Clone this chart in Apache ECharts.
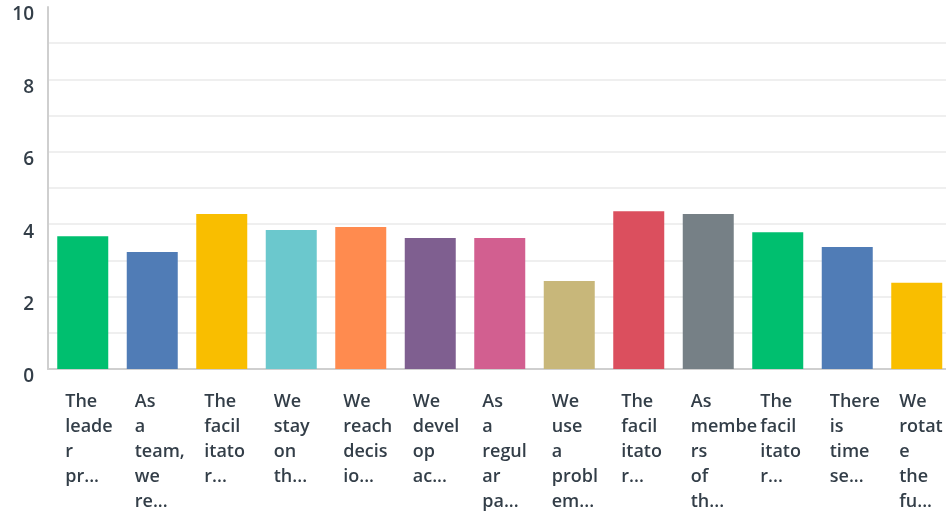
<!DOCTYPE html>
<html>
<head>
<meta charset="utf-8">
<script src="https://cdn.jsdelivr.net/npm/echarts@6/dist/echarts.min.js"></script>
<style>
  html, body { margin: 0; padding: 0; background: #fff; }
  #chart { width: 946px; height: 515px; }
</style>
</head>
<body>
<div id="chart"></div>
<script>
// Question labels as shown under each bar (pre-wrapped and shortened)
const categories = [
  "The\nleade\nr\npr...",
  "As\na\nteam,\nwe\nre...",
  "The\nfacil\nitato\nr...",
  "We\nstay\non\nth...",
  "We\nreach\ndecis\nio...",
  "We\ndevel\nop\nac...",
  "As\na\nregul\nar\npa...",
  "We\nuse\na\nprobl\nem...",
  "The\nfacil\nitato\nr...",
  "As\nmembe\nrs\nof\nth...",
  "The\nfacil\nitato\nr...",
  "There\nis\ntime\nse...",
  "We\nrotat\ne\nthe\nfu..."
];

// Average score for each question
const values = [3.67, 3.23, 4.28, 3.84, 3.92, 3.62, 3.62, 2.43, 4.36, 4.28, 3.78, 3.37, 2.38];

const barColors = [
  "#00BF6F", "#507CB6", "#F9BE00", "#6BC8CD", "#FF8B4F", "#7F5F90",
  "#D25F90", "#C8B77A", "#DB4F5E", "#768086", "#00BF6F", "#507CB6", "#F9BE00"
];

const yTicks = [0, 2, 4, 6, 8, 10];

const textColor = "#333E48";
const chart = echarts.init(document.getElementById("chart"), null, { renderer: "canvas" });

chart.setOption({
  animation: false,
  grid: { left: 48, width: 903.5, top: 7, bottom: 146, containLabel: false, outerBoundsMode: "none" },
  xAxis: {
    type: "category",
    data: categories,
    boundaryGap: true,
    axisLine: { show: true, lineStyle: { color: "#CFCFCF", width: 2 } },
    axisTick: { show: false },
    axisLabel: {
      interval: 0,
      margin: 20,
      verticalAlign: "top",
      formatter: function (v) {
        return v.split("\n").map(function (s) { return "{a|" + s + "}"; }).join("\n");
      },
      rich: {
        a: {
          width: 35,
          align: "left",
          lineHeight: 25,
          fontSize: 18,
          fontWeight: 600,
          fontFamily: "Open Sans",
          color: textColor
        }
      }
    },
    splitLine: { show: false }
  },
  yAxis: {
    type: "value",
    min: yTicks[0],
    max: yTicks[yTicks.length - 1],
    interval: yTicks[1] - yTicks[0],
    axisLine: { show: true, lineStyle: { color: "#CFCFCF", width: 2 } },
    axisTick: { show: false },
    minorTick: { show: false, splitNumber: 2 },
    axisLabel: {
      margin: 14,
      verticalAlign: "top",
      lineHeight: 16,
      fontSize: 19,
      fontWeight: 600,
      fontFamily: "Open Sans",
      color: textColor
    },
    splitLine: { show: true, showMaxLine: false, lineStyle: { color: "#EFEFEF", width: 2 } },
    minorSplitLine: { show: true, lineStyle: { color: "#EFEFEF", width: 2 } }
  },
  series: [{
    type: "bar",
    barWidth: 51,
    data: values.map(function (v, i) {
      return { value: v, itemStyle: { color: barColors[i] } };
    })
  }]
});
</script>
</body>
</html>
